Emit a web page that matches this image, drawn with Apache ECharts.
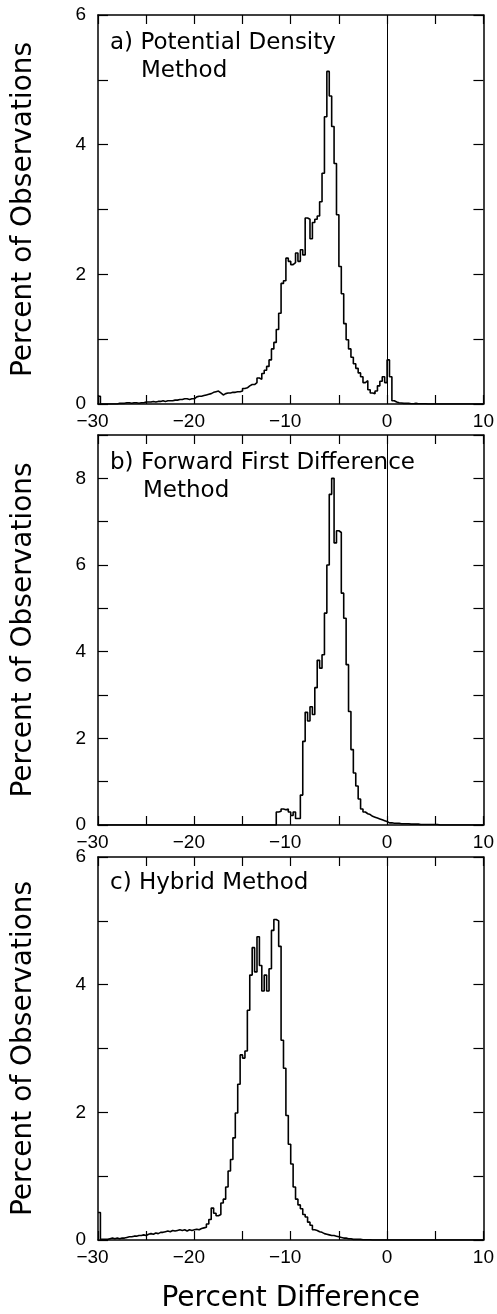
<!DOCTYPE html>
<html><head><meta charset="utf-8">
<script src="https://cdn.jsdelivr.net/npm/echarts@6/dist/echarts.min.js"></script>
<style>html,body{margin:0;padding:0;background:#fff}#c{width:497px;height:1314px}</style>
</head><body><div id="c"></div>
<script>
// Histogram bins: left edges start at binStart, each binWidth wide (percent difference)
const binStart = -30;
const binWidth = 0.25;

// a) Potential Density Method (percent of observations per bin)
const densityPct = [
0.12,0,0,0,0,0,0,0,0.01,0.01,
0.01,0.02,0.02,0.01,0.02,0.02,0.01,0.02,0.02,0.03,
0.03,0.03,0.04,0.03,0.04,0.04,0.05,0.04,0.05,0.05,
0.05,0.06,0.06,0.07,0.07,0.08,0.08,0.07,0.08,0.08,
0.11,0.12,0.12,0.13,0.14,0.15,0.16,0.18,0.19,0.20,
0.17,0.14,0.16,0.17,0.17,0.18,0.18,0.19,0.19,0.20,
0.24,0.25,0.28,0.30,0.30,0.33,0.40,0.38,0.47,0.52,
0.58,0.68,0.85,0.95,1.15,1.40,1.86,1.90,2.25,2.20,
2.15,2.18,2.33,2.20,2.38,2.30,2.87,2.85,2.55,2.80,
2.85,2.90,3.12,3.56,4.43,5.13,4.75,4.28,3.71,2.92,
2.12,1.70,1.24,0.99,0.85,0.72,0.62,0.55,0.48,0.42,
0.33,0.36,0.22,0.17,0.16,0.20,0.28,0.35,0.42,0.33,
0.68,0.42,0.05,0.03,0.02,0.015,0.01,0.01,0.01,0.005,
0.005,0.01,0.005,0.005,0.005,0.005,0,0,0,0,
0,0,0,0,0,0,0,0,0,0,
0,0,0,0,0,0,0,0,0,0
];

// b) Forward First Difference Method
const forwardPct = [
0,0,0,0,0,0,0,0,0,0,
0,0,0,0,0,0,0,0,0,0,
0,0,0,0,0,0,0,0,0,0,
0,0,0,0,0,0,0,0,0,0,
0,0,0,0,0,0,0,0,0,0,
0,0,0,0,0,0,0,0,0,0,
0,0,0,0,0,0,0,0,0,0,
0,0,0,0,0.30,0.32,0.37,0.35,0.37,0.30,
0.22,0.30,0.15,0.15,0.69,1.93,2.60,2.40,2.73,2.55,
3.17,3.80,3.62,3.93,4.89,6.00,7.63,8.00,6.51,6.79,
6.75,5.35,4.77,3.70,2.62,1.74,1.20,0.90,0.60,0.37,
0.30,0.26,0.24,0.20,0.18,0.16,0.14,0.12,0.10,0.08,
0.05,0.05,0.04,0.04,0.04,0.03,0.03,0.03,0.03,0.02,
0.02,0.02,0.02,0.01,0.01,0.01,0.01,0.01,0.01,0.01,
0.01,0,0,0,0,0,0,0,0,0,
0,0,0,0,0,0,0,0,0,0
];

// c) Hybrid Method
const hybridPct = [
0.43,0.01,0.01,0.01,0.02,0.03,0.02,0.03,0.02,0.03,
0.03,0.04,0.05,0.05,0.06,0.06,0.07,0.07,0.08,0.07,
0.09,0.10,0.09,0.11,0.10,0.12,0.12,0.13,0.14,0.13,
0.15,0.14,0.15,0.16,0.15,0.16,0.14,0.16,0.15,0.16,
0.17,0.16,0.18,0.19,0.20,0.25,0.32,0.50,0.42,0.38,
0.40,0.58,0.64,0.83,1.08,1.26,1.60,1.99,2.44,2.90,
2.85,2.96,3.60,4.15,4.58,4.20,4.75,4.30,3.90,4.15,
3.90,4.25,4.85,5.02,5.00,4.60,3.13,2.69,1.95,1.50,
1.19,0.83,0.64,0.55,0.49,0.40,0.36,0.28,0.23,0.16,
0.15,0.13,0.12,0.10,0.09,0.08,0.07,0.07,0.06,0.05,
0.04,0.03,0.03,0.02,0.02,0.01,0.01,0.01,0.01,0.005,
0.005,0.005,0.005,0,0,0,0,0,0,0,
0,0,0,0,0,0,0,0,0,0,
0,0,0,0,0,0,0,0,0,0,
0,0,0,0,0,0,0,0,0,0,
0,0,0,0,0,0,0,0,0,0
];

const xTickLabels = [-30, -20, -10, 0, 10];
const yTickLabels = [[0, 2, 4, 6], [0, 2, 4, 6, 8], [0, 2, 4, 6]];
const yMaxes = [6, 9, 6];
const panelTitles = [['a) Potential Density', 'Method'], ['b) Forward First Difference', 'Method'], ['c) Hybrid Method']];
const yAxisTitle = 'Percent of Observations';
const xAxisTitle = 'Percent Difference';
const panelSeries = [densityPct, forwardPct, hybridPct];

// ---- layout / styles ----
const grids = [
  {left: 98, top: 15, width: 386, height: 389},
  {left: 98, top: 435, width: 386, height: 390},
  {left: 98, top: 857, width: 387, height: 386}
];
const titlePos = [
  [[110, 32], [141, 60]],
  [[110, 452], [143, 480]],
  [[110, 872]]
];
const BLACK = '#000';
const tickFont = {color: BLACK, fontSize: 19, fontFamily: 'Liberation Sans'};
const lineW = 1.5;

function toMinus(v) { return v < 0 ? '\u2212' + (-v) : String(v); }

const option = {
  animation: false,
  backgroundColor: '#fff',
  grid: grids.map(g => Object.assign({containLabel: false}, g)),
  xAxis: [], yAxis: [], series: [], graphic: []
};

grids.forEach((g, p) => {
  // bottom x axis
  option.xAxis.push({
    type: 'value', gridIndex: p, position: 'bottom', min: -30, max: 10, interval: 5,
    axisLine: {show: true, onZero: false, lineStyle: {color: BLACK, width: lineW}},
    axisTick: {show: true, inside: true, length: 9, lineStyle: {color: BLACK, width: 1.2}},
    splitLine: {show: false},
    axisLabel: {
      show: true, margin: 8,
      formatter: v => xTickLabels.indexOf(v) < 0 ? '' : (v < 0 ? '{n|' + toMinus(v) + '}' : '{p|' + v + '}'),
      rich: {
        n: Object.assign({padding: [0, 11, 0, 0]}, tickFont),
        p: Object.assign({}, tickFont)
      }
    },
    name: p === 2 ? xAxisTitle : '',
    nameLocation: 'middle', nameGap: 45,
    nameTextStyle: {color: BLACK, fontSize: 28, fontFamily: 'DejaVu Sans'}
  });
  // top x axis (frame + inward ticks)
  option.xAxis.push({
    type: 'value', gridIndex: p, position: 'top', min: -30, max: 10, interval: 5,
    axisLine: {show: true, onZero: false, lineStyle: {color: BLACK, width: lineW}},
    axisTick: {show: true, inside: true, length: 9, lineStyle: {color: BLACK, width: 1.2}},
    splitLine: {show: false}, axisLabel: {show: false}
  });
  // left y axis
  option.yAxis.push({
    type: 'value', gridIndex: p, position: 'left', min: 0, max: yMaxes[p], interval: 1,
    axisLine: {show: true, onZero: false, lineStyle: {color: BLACK, width: lineW}},
    axisTick: {show: true, inside: true, length: 10, lineStyle: {color: BLACK, width: 1.2}},
    splitLine: {show: false},
    axisLabel: Object.assign({show: true, margin: 12,
      formatter: v => yTickLabels[p].indexOf(v) < 0 ? '' : String(v)}, tickFont),
    name: yAxisTitle, nameLocation: 'middle', nameGap: 60,
    nameTextStyle: {color: BLACK, fontSize: 28, fontFamily: 'DejaVu Sans'}
  });
  // right y axis
  option.yAxis.push({
    type: 'value', gridIndex: p, position: 'right', min: 0, max: yMaxes[p], interval: 1,
    axisLine: {show: true, onZero: false, lineStyle: {color: BLACK, width: lineW}},
    axisTick: {show: true, inside: true, length: 10, lineStyle: {color: BLACK, width: 1.2}},
    splitLine: {show: false}, axisLabel: {show: false}
  });

  const vals = panelSeries[p];
  const data = vals.map((y, i) => [binStart + i * binWidth, y]);
  data.push([binStart + vals.length * binWidth, vals[vals.length - 1]]);
  option.series.push({
    type: 'line', xAxisIndex: p * 2, yAxisIndex: p * 2, step: 'end',
    data: data, showSymbol: false, symbol: 'none', clip: true,
    lineStyle: {color: BLACK, width: 1.6},
    markLine: {
      silent: true, symbol: ['none', 'none'], label: {show: false},
      lineStyle: {color: BLACK, width: 1, type: 'solid'},
      data: [{xAxis: 0}]
    }
  });

  panelTitles[p].forEach((t, k) => {
    option.graphic.push({
      type: 'text', x: titlePos[p][k][0], y: titlePos[p][k][1],
      style: {text: t, fill: BLACK, fontSize: 23, fontFamily: 'DejaVu Sans', verticalAlign: 'top'}
    });
  });
});

const chart = echarts.init(document.getElementById('c'), null, {renderer: 'canvas'});
chart.setOption(option);
</script>
</body></html>
